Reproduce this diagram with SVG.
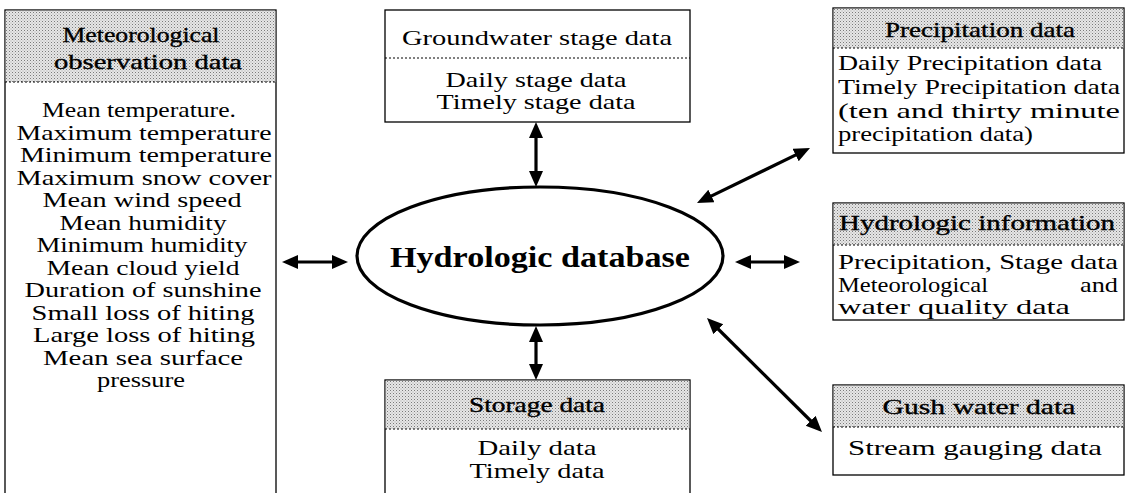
<svg xmlns="http://www.w3.org/2000/svg" width="1136" height="493" viewBox="0 0 1136 493">
<style>
.box{fill:#fff;stroke:#000;stroke-width:1.3}
.hdr{fill:url(#dots);stroke:none}
.sep{stroke:#000;stroke-width:1;stroke-dasharray:2,2;fill:none}
.t{font-family:"Liberation Serif",serif;font-size:21px;fill:#000;dominant-baseline:central}
.h{stroke:#000;stroke-width:0.35}
.c{text-anchor:middle}
.arr{stroke:#000;stroke-width:3.2;fill:none;marker-start:url(#ah);marker-end:url(#ah)}
</style>
<defs>
<pattern id="dots" width="3" height="3" patternUnits="userSpaceOnUse">
<rect width="3" height="3" fill="#e6e6e6"/>
<rect x="0" y="0" width="1" height="1" fill="#7a7a7a"/>
<rect x="1.5" y="1.5" width="1" height="1" fill="#a8a8a8"/>
</pattern>
<marker id="ah" markerUnits="userSpaceOnUse" markerWidth="18" markerHeight="16" refX="6" refY="7" orient="auto-start-reverse" viewBox="0 0 18 16">
<path d="M0,0 L16,7 L0,14 z" fill="#000"/>
</marker>
</defs>

<g id="connectors">
<line class="arr" x1="536" y1="132" x2="536" y2="177"/>
<line class="arr" x1="292" y1="262" x2="338" y2="262"/>
<line class="arr" x1="745" y1="262" x2="790" y2="262"/>
<line class="arr" x1="536" y1="336" x2="536" y2="370"/>
<line class="arr" x1="706" y1="198.6" x2="801" y2="152.4"/>
<line class="arr" x1="714.1" y1="325" x2="814.9" y2="425"/>
</g>

<g id="meteorological">
<rect class="box" x="5" y="10" width="271" height="500"/>
<rect class="hdr" x="5.7" y="10.7" width="269.6" height="71.3"/>
<line class="sep" x1="5" y1="82" x2="276" y2="82"/>
<text class="t c h" x="141" y="35" textLength="157" lengthAdjust="spacingAndGlyphs">Meteorological</text>
<text class="t c h" x="148" y="62" textLength="188" lengthAdjust="spacingAndGlyphs">observation data</text>
<text class="t c" x="139" y="110" textLength="194" lengthAdjust="spacingAndGlyphs">Mean temperature.</text>
<text class="t c" x="144" y="132.5" textLength="255" lengthAdjust="spacingAndGlyphs">Maximum temperature</text>
<text class="t c" x="146" y="155" textLength="252" lengthAdjust="spacingAndGlyphs">Minimum temperature</text>
<text class="t c" x="144" y="177.5" textLength="255" lengthAdjust="spacingAndGlyphs">Maximum snow cover</text>
<text class="t c" x="142" y="200" textLength="199" lengthAdjust="spacingAndGlyphs">Mean wind speed</text>
<text class="t c" x="143" y="222.5" textLength="167" lengthAdjust="spacingAndGlyphs">Mean humidity</text>
<text class="t c" x="142" y="245" textLength="211" lengthAdjust="spacingAndGlyphs">Minimum humidity</text>
<text class="t c" x="143" y="267.5" textLength="193" lengthAdjust="spacingAndGlyphs">Mean cloud yield</text>
<text class="t c" x="143" y="290" textLength="237" lengthAdjust="spacingAndGlyphs">Duration of sunshine</text>
<text class="t c" x="143" y="312.5" textLength="223" lengthAdjust="spacingAndGlyphs">Small loss of hiting</text>
<text class="t c" x="144" y="335" textLength="222" lengthAdjust="spacingAndGlyphs">Large loss of hiting</text>
<text class="t c" x="143" y="357.5" textLength="200" lengthAdjust="spacingAndGlyphs">Mean sea surface</text>
<text class="t c" x="141" y="380" textLength="88" lengthAdjust="spacingAndGlyphs">pressure</text>
</g>

<g id="groundwater">
<rect class="box" x="385" y="10" width="305" height="112"/>
<line class="sep" x1="385" y1="58" x2="690" y2="58"/>
<text class="t c" x="537" y="38" textLength="270" lengthAdjust="spacingAndGlyphs">Groundwater stage data</text>
<text class="t c" x="536" y="80" textLength="181" lengthAdjust="spacingAndGlyphs">Daily stage data</text>
<text class="t c" x="536" y="102" textLength="199" lengthAdjust="spacingAndGlyphs">Timely stage data</text>
</g>

<g id="database">
<ellipse cx="540" cy="256" rx="183" ry="69" fill="#fff" stroke="#000" stroke-width="3.2"/>
<text class="t c" x="540" y="257" style="font-size:29px;font-weight:bold" textLength="300" lengthAdjust="spacingAndGlyphs">Hydrologic database</text>
</g>

<g id="storage">
<rect class="box" x="385" y="380" width="305" height="130"/>
<rect class="hdr" x="385.7" y="380.7" width="303.6" height="48.3"/>
<line class="sep" x1="385" y1="429" x2="690" y2="429"/>
<text class="t c h" x="537" y="405" textLength="136" lengthAdjust="spacingAndGlyphs">Storage data</text>
<text class="t c" x="537" y="448" textLength="119" lengthAdjust="spacingAndGlyphs">Daily data</text>
<text class="t c" x="537" y="471" textLength="135" lengthAdjust="spacingAndGlyphs">Timely data</text>
</g>

<g id="precipitation">
<rect class="box" x="833" y="8" width="291" height="145"/>
<rect class="hdr" x="833.7" y="8.7" width="289.6" height="39.3"/>
<line class="sep" x1="833" y1="48" x2="1124" y2="48"/>
<text class="t c h" x="980" y="30" textLength="190" lengthAdjust="spacingAndGlyphs">Precipitation data</text>
<text class="t" x="838" y="63" textLength="264" lengthAdjust="spacingAndGlyphs">Daily Precipitation data</text>
<text class="t" x="838" y="87" textLength="282" lengthAdjust="spacingAndGlyphs">Timely Precipitation data</text>
<text class="t" x="838" y="111" textLength="282" lengthAdjust="spacingAndGlyphs">(ten  and  thirty  minute</text>
<text class="t" x="838" y="134" textLength="195" lengthAdjust="spacingAndGlyphs">precipitation data)</text>
</g>

<g id="hydrologic-info">
<rect class="box" x="833" y="203" width="291" height="117"/>
<rect class="hdr" x="833.7" y="203.7" width="289.6" height="41.3"/>
<line class="sep" x1="833" y1="245" x2="1124" y2="245"/>
<text class="t h" x="839" y="223" textLength="276" lengthAdjust="spacingAndGlyphs">Hydrologic information</text>
<text class="t" x="838" y="262" textLength="280" lengthAdjust="spacingAndGlyphs">Precipitation, Stage data</text>
<text class="t" x="838" y="285" textLength="150" lengthAdjust="spacingAndGlyphs">Meteorological</text>
<text class="t" x="1080" y="285" textLength="38" lengthAdjust="spacingAndGlyphs">and</text>
<text class="t" x="838" y="307" textLength="232" lengthAdjust="spacingAndGlyphs">water quality  data</text>
</g>

<g id="gush">
<rect class="box" x="833" y="385" width="291" height="90"/>
<rect class="hdr" x="833.7" y="385.7" width="289.6" height="41.3"/>
<line class="sep" x1="833" y1="427" x2="1124" y2="427"/>
<text class="t c h" x="979" y="407" textLength="193" lengthAdjust="spacingAndGlyphs">Gush water data</text>
<text class="t c" x="975" y="448" textLength="254" lengthAdjust="spacingAndGlyphs">Stream gauging data</text>
</g>
</svg>
